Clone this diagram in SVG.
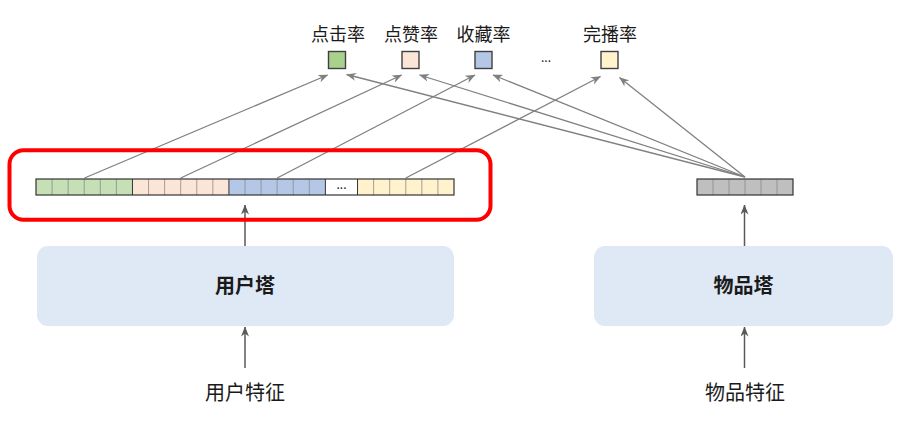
<svg xmlns="http://www.w3.org/2000/svg" width="902" height="434" viewBox="0 0 902 434">
<style>
text{font-family:"Noto Sans CJK SC","Noto Sans",sans-serif;fill:#1a1a1a}
.lbl{font-size:18px;text-anchor:middle}
.big{font-size:20px;text-anchor:middle}
.bold{font-weight:bold}
.dots{font-size:12px;text-anchor:middle}
.div{stroke:#8c8c8c;stroke-width:0.8}
.outer{fill:none;stroke:#333;stroke-width:1.2}
.tower{fill:#dee9f5}
.sq{stroke:#404040;stroke-width:1.4}
.diag{stroke:#808080;stroke-width:1.3;fill:none;marker-end:url(#ah)}
.vert{stroke:#595959;stroke-width:1.5;fill:none;marker-end:url(#ahv)}
</style>
<defs>
<marker id="ah" viewBox="0 0 10 8" refX="9.5" refY="4" markerWidth="10" markerHeight="8" markerUnits="userSpaceOnUse" orient="auto">
<path d="M0,0 L10,4 L0,8 L3,4 z" fill="#808080"/>
</marker>
<marker id="ahv" viewBox="0 0 10 8" refX="9.5" refY="4" markerWidth="10" markerHeight="8" markerUnits="userSpaceOnUse" orient="auto">
<path d="M0,0 L10,4 L0,8 L3,4 z" fill="#595959"/>
</marker>
</defs>
<rect width="902" height="434" fill="#fff"/>

<g id="outputs">
<g id="out-ctr"><text class="lbl" x="338" y="41">点击率</text><rect class="sq" x="328.5" y="51.5" width="17" height="17" fill="#a9d18e"/></g>
<g id="out-like"><text class="lbl" x="411" y="41">点赞率</text><rect class="sq" x="402" y="51.5" width="17" height="17" fill="#fbe5d6"/></g>
<g id="out-fav"><text class="lbl" x="483.5" y="41">收藏率</text><rect class="sq" x="475" y="51.5" width="17" height="17" fill="#b4c7e7"/></g>
<g id="out-dots"><text class="dots" x="546" y="62">...</text></g>
<g id="out-finish"><text class="lbl" x="610" y="41">完播率</text><rect class="sq" x="601" y="51.5" width="17" height="17" fill="#fff2cc"/></g>
</g>

<g id="connectors">
<line class="diag" x1="84.5" y1="178" x2="327.7" y2="75"/>
<line class="diag" x1="180.7" y1="178" x2="401.7" y2="75"/>
<line class="diag" x1="277.2" y1="178" x2="475" y2="75"/>
<line class="diag" x1="405.8" y1="178" x2="600.5" y2="76.5"/>
<line class="diag" x1="745" y1="177" x2="346.7" y2="74.5"/>
<line class="diag" x1="745" y1="177" x2="419.5" y2="75"/>
<line class="diag" x1="745" y1="177" x2="493" y2="75"/>
<line class="diag" x1="745" y1="177" x2="619.5" y2="77.5"/>
<line class="vert" x1="245" y1="246" x2="245" y2="205"/>
<line class="vert" x1="245" y1="368" x2="245" y2="327"/>
<line class="vert" x1="744.5" y1="246" x2="744.5" y2="205"/>
<line class="vert" x1="744.5" y1="368" x2="744.5" y2="327"/>
</g>

<g id="user-vector">
<rect x="9.5" y="150.3" width="481" height="69.5" rx="14" fill="none" stroke="#ff0000" stroke-width="4"/>
<rect x="36" y="179" width="96.46" height="16" fill="#c5e0b4"/>
<rect x="132.46" y="179" width="96.46" height="16" fill="#fbe5d6"/>
<rect x="228.92" y="179" width="96.46" height="16" fill="#b4c7e7"/>
<rect x="325.38" y="179" width="32.16" height="16" fill="#ffffff"/>
<rect x="357.54" y="179" width="96.46" height="16" fill="#fff2cc"/>
<g class="div">
<line x1="52.08" y1="179" x2="52.08" y2="195"/><line x1="68.15" y1="179" x2="68.15" y2="195"/><line x1="84.23" y1="179" x2="84.23" y2="195"/><line x1="100.31" y1="179" x2="100.31" y2="195"/><line x1="116.38" y1="179" x2="116.38" y2="195"/>
<line x1="148.54" y1="179" x2="148.54" y2="195"/><line x1="164.62" y1="179" x2="164.62" y2="195"/><line x1="180.69" y1="179" x2="180.69" y2="195"/><line x1="196.77" y1="179" x2="196.77" y2="195"/><line x1="212.85" y1="179" x2="212.85" y2="195"/>
<line x1="245" y1="179" x2="245" y2="195"/><line x1="261.08" y1="179" x2="261.08" y2="195"/><line x1="277.15" y1="179" x2="277.15" y2="195"/><line x1="293.23" y1="179" x2="293.23" y2="195"/><line x1="309.31" y1="179" x2="309.31" y2="195"/>
<line x1="373.62" y1="179" x2="373.62" y2="195"/><line x1="389.69" y1="179" x2="389.69" y2="195"/><line x1="405.77" y1="179" x2="405.77" y2="195"/><line x1="421.85" y1="179" x2="421.85" y2="195"/><line x1="437.92" y1="179" x2="437.92" y2="195"/>
</g>
<g stroke="#333" stroke-width="1">
<line x1="132.46" y1="179" x2="132.46" y2="195"/><line x1="228.92" y1="179" x2="228.92" y2="195"/><line x1="325.38" y1="179" x2="325.38" y2="195"/><line x1="357.54" y1="179" x2="357.54" y2="195"/>
</g>
<rect class="outer" x="36" y="179" width="418" height="16"/>
<text class="dots" x="341.5" y="189">...</text>
</g>

<g id="item-vector">
<rect x="697" y="179" width="96" height="16" fill="#bfbfbf"/>
<g class="div" stroke="#777">
<line x1="713" y1="179" x2="713" y2="195"/><line x1="729" y1="179" x2="729" y2="195"/><line x1="745" y1="179" x2="745" y2="195"/><line x1="761" y1="179" x2="761" y2="195"/><line x1="777" y1="179" x2="777" y2="195"/>
</g>
<rect class="outer" x="697" y="179" width="96" height="16"/>
</g>

<g id="user-tower">
<rect class="tower" x="37" y="246" width="417" height="80" rx="11"/>
<text class="big bold" x="245" y="293">用户塔</text>
</g>
<g id="item-tower">
<rect class="tower" x="594" y="246" width="299" height="80" rx="11"/>
<text class="big bold" x="743.5" y="293">物品塔</text>
</g>
<g id="user-features"><text class="big" x="245" y="400">用户特征</text></g>
<g id="item-features"><text class="big" x="745" y="400">物品特征</text></g>
</svg>
